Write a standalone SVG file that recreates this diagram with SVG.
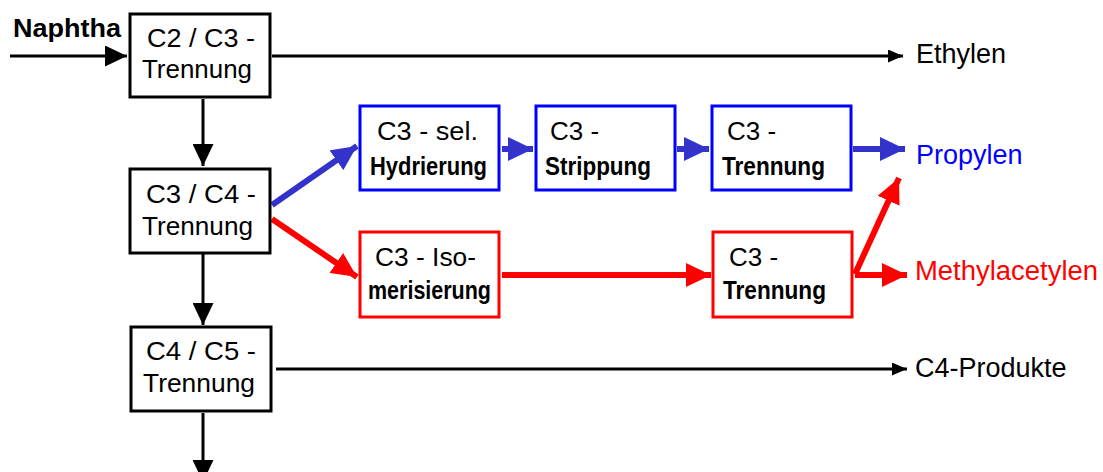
<svg xmlns="http://www.w3.org/2000/svg" width="1103" height="472" viewBox="0 0 1103 472">
  <style>
    .box { fill: #ffffff; stroke-width: 3; }
    .blk { stroke: #000000; }
    .blu { stroke: #0000ff; }
    .red { stroke: #ff0000; }
    .t { font-family: "Liberation Sans", Arial, sans-serif; font-size: 26px; fill: #000000; }
    .tb { font-family: "Liberation Sans", Arial, sans-serif; font-size: 25px; font-weight: bold; fill: #000000; }
    .lbl { font-family: "Liberation Sans", Arial, sans-serif; font-size: 27px; }
    .ln { fill: none; stroke-linecap: butt; }
    .lk { stroke: #000000; stroke-width: 3; }
    .lb { stroke: #3333cc; stroke-width: 6; }
    .lr { stroke: #ff0000; stroke-width: 6; }
  </style>
  <defs>
    <marker id="headBig" markerUnits="userSpaceOnUse" markerWidth="22" markerHeight="21" refX="22" refY="10.5" orient="auto" viewBox="0 0 22 21">
      <path d="M0,0 L22,10.5 L0,21 z" fill="#000000"/>
    </marker>
    <marker id="headSmall" markerUnits="userSpaceOnUse" markerWidth="15" markerHeight="13" refX="15" refY="6.5" orient="auto" viewBox="0 0 15 13">
      <path d="M0,0 L15,6.5 L0,13 z" fill="#000000"/>
    </marker>
    <marker id="headBlue" markerUnits="userSpaceOnUse" markerWidth="25" markerHeight="24" refX="25" refY="12" orient="auto" viewBox="0 0 25 24">
      <path d="M0,0 L25,12 L0,24 z" fill="#3333cc"/>
    </marker>
    <marker id="headRed" markerUnits="userSpaceOnUse" markerWidth="25" markerHeight="24" refX="25" refY="12" orient="auto" viewBox="0 0 25 24">
      <path d="M0,0 L25,12 L0,24 z" fill="#ff0000"/>
    </marker>
  </defs>

  <!-- connectors -->
  <g id="connectors" class="ln">
    <line class="ln lk" x1="10" y1="56" x2="127" y2="56" marker-end="url(#headBig)"/>
    <line class="ln lk" x1="272" y1="56" x2="903" y2="56" marker-end="url(#headSmall)"/>
    <line class="ln lk" x1="203" y1="99" x2="203" y2="166" marker-end="url(#headBig)"/>
    <line class="ln lk" x1="203" y1="254" x2="203" y2="325" marker-end="url(#headBig)"/>
    <line class="ln lk" x1="203" y1="413" x2="203" y2="482" marker-end="url(#headBig)"/>
    <line class="ln lk" x1="276" y1="369" x2="907" y2="369" marker-end="url(#headSmall)"/>

    <line class="ln lb" x1="272" y1="205" x2="357" y2="146" marker-end="url(#headBlue)"/>
    <line class="ln lb" x1="502" y1="149" x2="533" y2="149" marker-end="url(#headBlue)"/>
    <line class="ln lb" x1="677" y1="149" x2="709" y2="149" marker-end="url(#headBlue)"/>
    <line class="ln lb" x1="853" y1="149" x2="905" y2="149" marker-end="url(#headBlue)"/>

    <line class="ln lr" x1="272" y1="219" x2="357" y2="277" marker-end="url(#headRed)"/>
    <line class="ln lr" x1="502" y1="275" x2="711" y2="275" marker-end="url(#headRed)"/>
    <line class="ln lr" x1="855" y1="275" x2="907" y2="275" marker-end="url(#headRed)"/>
    <line class="ln lr" x1="855" y1="274" x2="899" y2="178" marker-end="url(#headRed)"/>
  </g>

  <!-- feed and product labels -->
  <text class="lbl" x="13" y="37" textLength="108" lengthAdjust="spacingAndGlyphs" style="font-weight:bold; font-size:25px" fill="#000000">Naphtha</text>
  <text class="lbl" x="916" y="63" fill="#000000">Ethylen</text>
  <text class="lbl" x="916" y="164" fill="#0000ff">Propylen</text>
  <text class="lbl" x="915" y="280" textLength="183" lengthAdjust="spacingAndGlyphs" fill="#ff0000">Methylacetylen</text>
  <text class="lbl" x="915" y="377" fill="#000000">C4-Produkte</text>

  <!-- main separation column -->
  <g id="c2c3">
    <rect class="box blk" x="130" y="14" width="140" height="83"/>
    <text class="t" x="147" y="47" textLength="108" lengthAdjust="spacingAndGlyphs">C2 / C3 -</text>
    <text class="t" x="142" y="78" textLength="110" lengthAdjust="spacingAndGlyphs">Trennung</text>
  </g>
  <g id="c3c4">
    <rect class="box blk" x="130" y="169" width="140" height="84"/>
    <text class="t" x="146" y="203" textLength="110" lengthAdjust="spacingAndGlyphs">C3 / C4 -</text>
    <text class="t" x="142" y="235" textLength="111" lengthAdjust="spacingAndGlyphs">Trennung</text>
  </g>
  <g id="c4c5">
    <rect class="box blk" x="131" y="327" width="140" height="84"/>
    <text class="t" x="146" y="360" textLength="110" lengthAdjust="spacingAndGlyphs">C4 / C5 -</text>
    <text class="t" x="143" y="392" textLength="112" lengthAdjust="spacingAndGlyphs">Trennung</text>
  </g>

  <!-- propylene line -->
  <g id="hydrierung">
    <rect class="box blu" x="360" y="106" width="139" height="84"/>
    <text class="t" x="377" y="140" textLength="101" lengthAdjust="spacingAndGlyphs">C3 - sel.</text>
    <text class="tb" x="370" y="175" textLength="117" lengthAdjust="spacingAndGlyphs">Hydrierung</text>
  </g>
  <g id="strippung">
    <rect class="box blu" x="536" y="106" width="139" height="84"/>
    <text class="t" x="550" y="140">C3 -</text>
    <text class="tb" x="545" y="175" textLength="106" lengthAdjust="spacingAndGlyphs">Strippung</text>
  </g>
  <g id="trennung-blau">
    <rect class="box blu" x="712" y="106" width="139" height="84"/>
    <text class="t" x="727" y="140">C3 -</text>
    <text class="tb" x="722" y="175" textLength="103" lengthAdjust="spacingAndGlyphs">Trennung</text>
  </g>

  <!-- methylacetylene line -->
  <g id="isomerisierung">
    <rect class="box red" x="360" y="232" width="139" height="85"/>
    <text class="t" x="375" y="266" textLength="101" lengthAdjust="spacingAndGlyphs">C3 - Iso-</text>
    <text class="tb" x="368" y="299" textLength="123" lengthAdjust="spacingAndGlyphs">merisierung</text>
  </g>
  <g id="trennung-rot">
    <rect class="box red" x="713" y="232" width="139" height="85"/>
    <text class="t" x="729" y="266">C3 -</text>
    <text class="tb" x="723" y="299" textLength="103" lengthAdjust="spacingAndGlyphs">Trennung</text>
  </g>
</svg>
